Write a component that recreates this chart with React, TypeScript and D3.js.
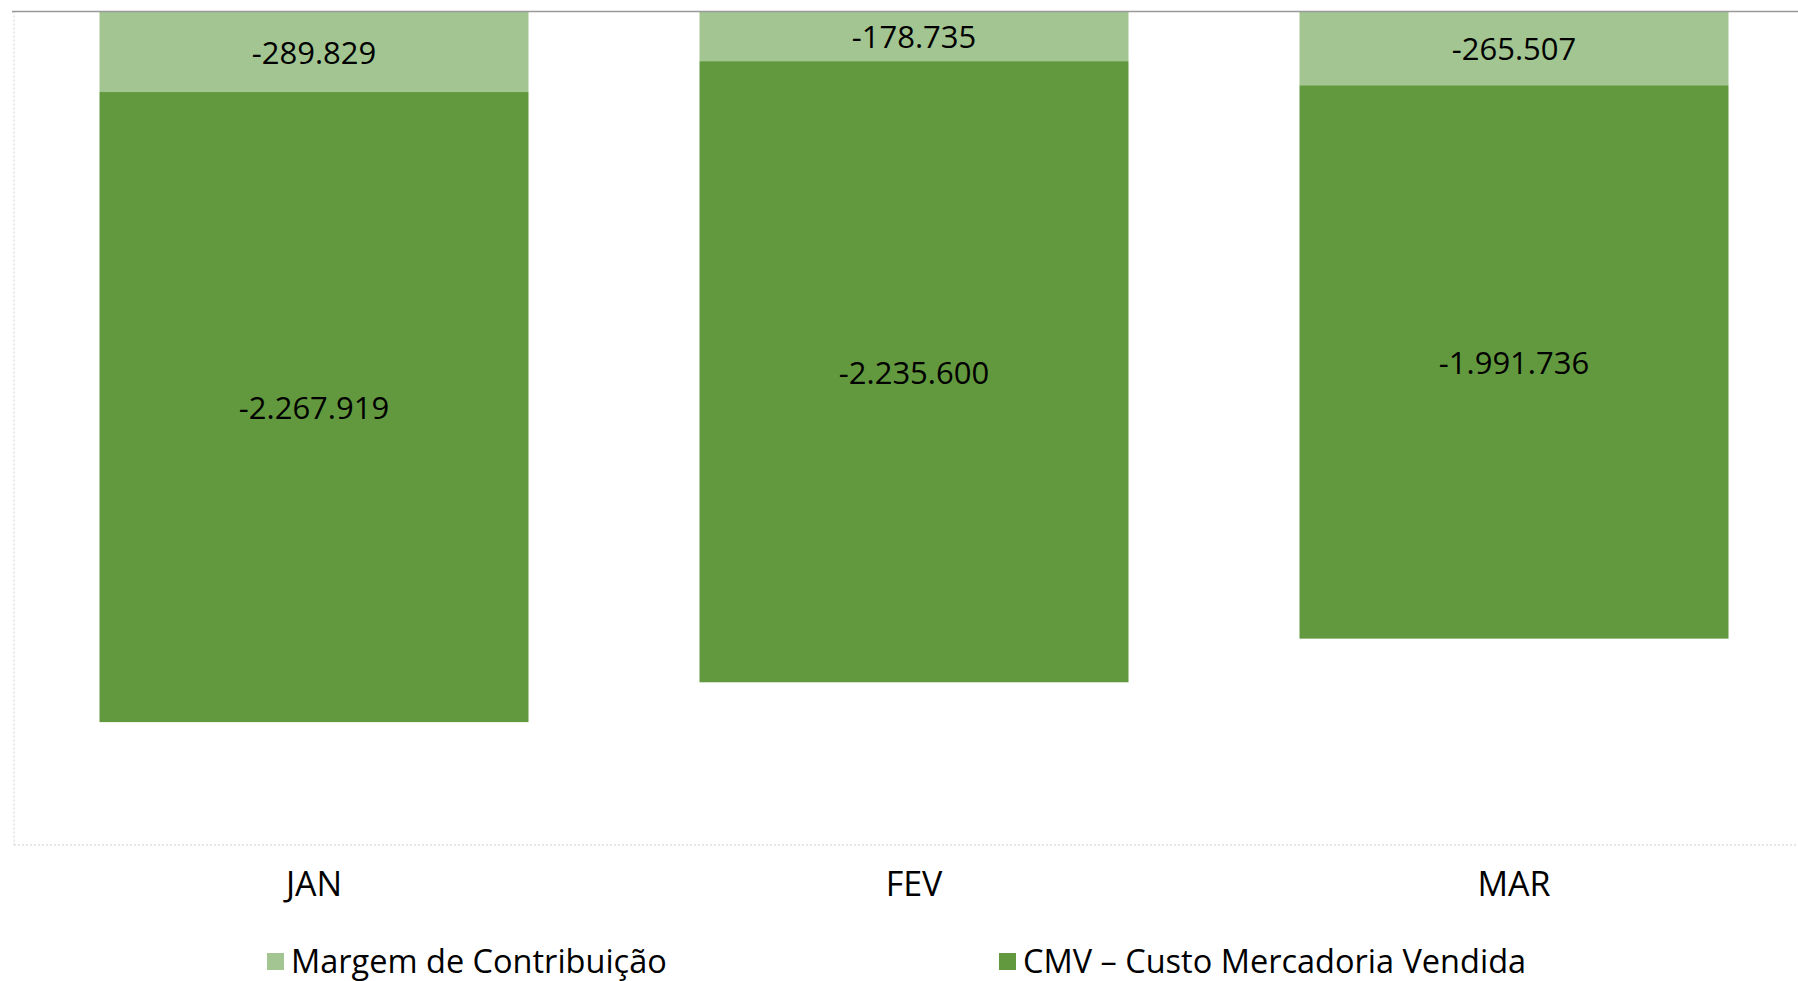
import React from "react";
import * as d3 from "d3";

const months = ["JAN", "FEV", "MAR"];
const margem = [-289829, -178735, -265507];
const cmv = [-2267919, -2235600, -1991736];
const seriesNames = ["Margem de Contribuição", "CMV – Custo Mercadoria Vendida"];
const colors = ["#A2C591", "#62993E"];

const W = 1798;
const H = 981;

const locale = d3.formatLocale({ decimal: ",", thousands: ".", grouping: [3], currency: ["R$", ""], minus: "-" });
const fmt = locale.format(",.0f");

export default function App() {
  const x = d3.scaleBand<string>().domain(months).range([14, 1814]).paddingInner(0.285).paddingOuter(0.1425);
  const y = d3.scaleLinear().domain([0, -3000000]).range([11.5, 845]);
  const font = "'Open Sans', sans-serif";

  return (
    <svg width={W} height={H} style={{ position: "absolute", left: 0, top: 0, background: "#fff" }}>
      {/* plot border */}
      <line x1={14} x2={14} y1={11.5} y2={845} stroke="#d0d0d0" strokeDasharray="2,2" />
      <line x1={14} x2={W} y1={845} y2={845} stroke="#d0d0d0" strokeDasharray="2,2" />
      {months.map((m, i) => {
        const x0 = x(m)!;
        const bw = x.bandwidth();
        const m0 = y(0);
        const m1 = y(margem[i]);
        const c1 = y(margem[i] + cmv[i]);
        return (
          <g key={m}>
            <rect x={x0} y={m0} width={bw} height={m1 - m0} fill={colors[0]} />
            <rect x={x0} y={m1} width={bw} height={c1 - m1} fill={colors[1]} />
            <text x={x0 + bw / 2} y={(m0 + m1) / 2} textAnchor="middle" dominantBaseline="central" fontFamily={font} fontSize={31} fill="#000">
              {fmt(margem[i])}
            </text>
            <text x={x0 + bw / 2} y={(m1 + c1) / 2} textAnchor="middle" dominantBaseline="central" fontFamily={font} fontSize={31} fill="#000">
              {fmt(cmv[i])}
            </text>
            <text x={x0 + bw / 2} y={883} textAnchor="middle" dominantBaseline="central" fontFamily={font} fontSize={34} fill="#000">
              {m}
            </text>
          </g>
        );
      })}
      <line x1={12} x2={W} y1={11.5} y2={11.5} stroke="#999" strokeWidth={1.5} />
      {/* legend */}
      {seriesNames.map((s, i) => {
        const lx = i === 0 ? 267 : 999;
        return (
          <g key={s}>
            <rect x={lx} y={953} width={17} height={17} fill={colors[i]} />
            <text x={lx + 24} y={960} dominantBaseline="central" fontFamily={font} fontSize={32.5} fill="#000">
              {s}
            </text>
          </g>
        );
      })}
    </svg>
  );
}
